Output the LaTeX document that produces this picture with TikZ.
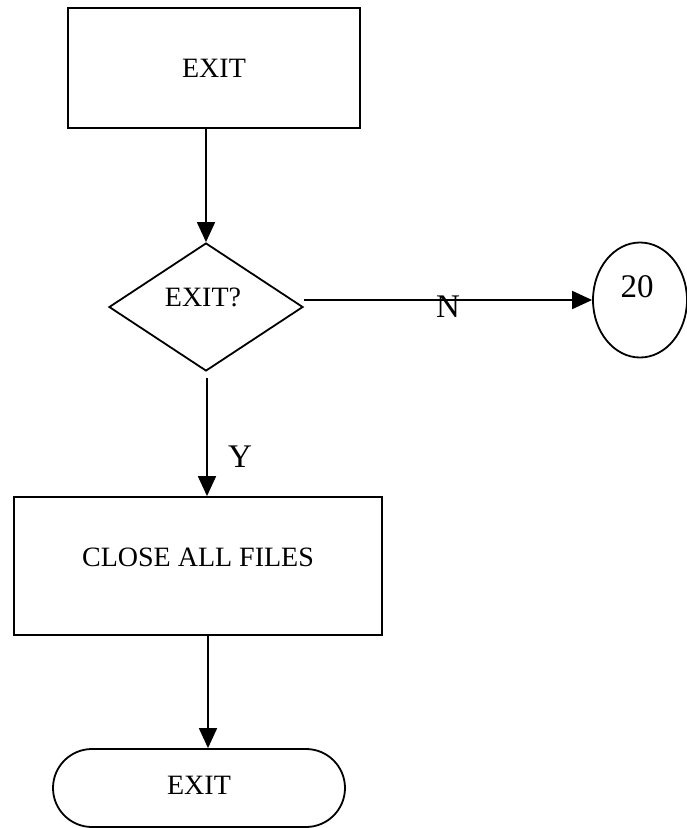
\documentclass[tikz,border=0pt]{standalone}
\usepackage{fontspec}
\setmainfont{Liberation Serif}
\usetikzlibrary{shapes.geometric,shapes.misc,arrows.meta}
\begin{document}
\begin{tikzpicture}[x=1pt,y=-1pt,
  box/.style={draw,line width=1.8pt,rectangle,inner sep=0pt},
  dec/.style={draw,line width=1.8pt,diamond,inner sep=0pt,aspect=1.5},
  conn/.style={draw,line width=1.8pt,ellipse,inner sep=0pt},
  term/.style={draw,line width=1.8pt,rounded rectangle,inner sep=0pt},
  txt/.style={font=\fontsize{28}{30}\selectfont},
  lbl/.style={font=\fontsize{33}{35}\selectfont},
  arr/.style={line width=1.8pt,-{Triangle[length=20pt,width=18pt]}}]
\useasboundingbox (0,0) rectangle (687,828);
\node[box,minimum width=292pt,minimum height=120pt] (top) at (214,68) {};
\node[txt] (toptxt) at (214,68) {EXIT};
\node[dec,minimum width=194pt,minimum height=128pt] (dia) at (206,307) {};
\node[txt] (diatxt) at (203,297) {EXIT?};
\node[conn,minimum width=94pt,minimum height=115pt] (c20) at (640,300) {};
\node[lbl] (c20txt) at (637,287) {20};
\node[box,minimum width=368pt,minimum height=138pt] (close) at (198,566) {};
\node[txt] (closetxt) at (198,557) {CLOSE ALL FILES};
\node[term,minimum width=292pt,minimum height=78pt] (end) at (199,788) {};
\node[txt] (endtxt) at (199,785) {EXIT};
\coordinate (dstart) at (207,378);
\draw[arr] (top.south -| dia.north) -- (dia.north);
\draw[arr] (dia.east |- c20.west) -- node[lbl,pos=0.5,yshift=-7pt,inner sep=0pt] (nlab) {N} (c20.west);
\draw[arr] (dstart) -- (close.north -| dstart);
\node[lbl] (ylab) at (240,457) {Y};
\draw[arr] (close.south -| 208,0) -- (end.north -| 208,0);
\end{tikzpicture}
\end{document}
